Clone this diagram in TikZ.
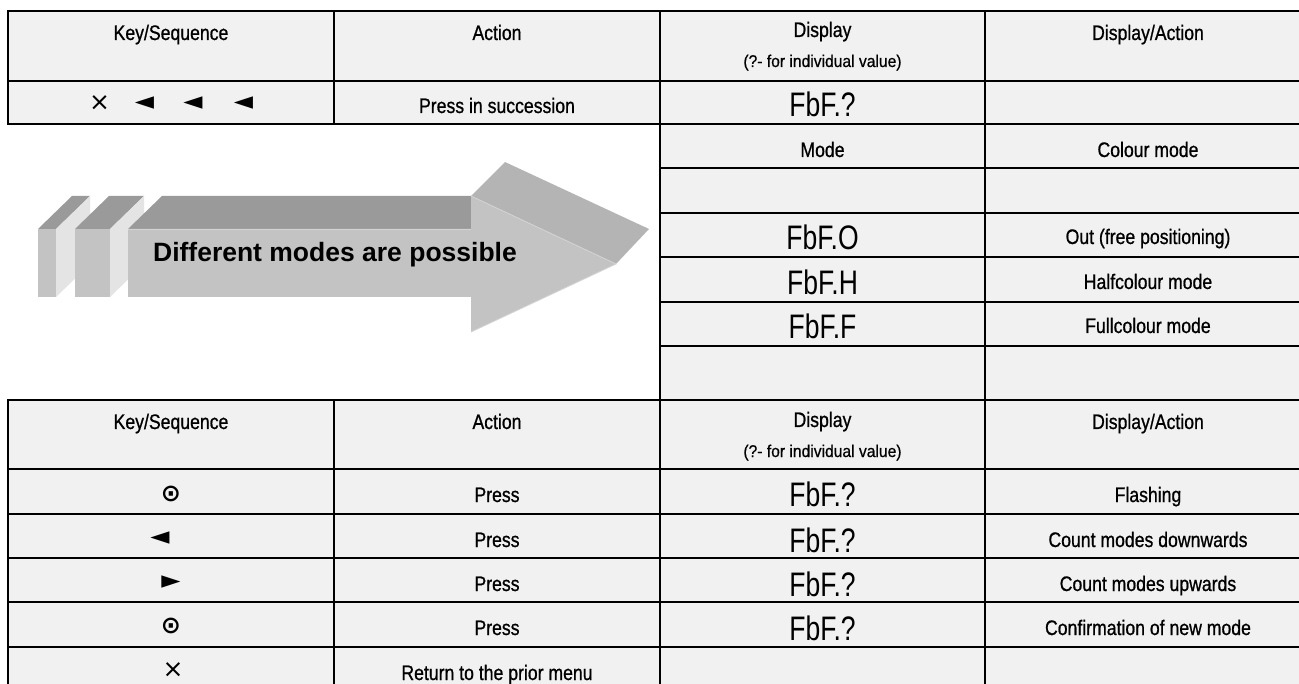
\documentclass[tikz,border=0pt]{standalone}
\usepackage{fontspec}
\setmainfont{Liberation Sans}
\newfontfamily\tabfont[FakeStretch=0.84,FakeBold=0.8]{Liberation Sans}
\newfontfamily\subfont[FakeStretch=0.92,FakeBold=0.6]{Liberation Sans}
\newfontfamily\segfont[FakeStretch=0.78]{Liberation Sans}
\newfontfamily\symfont{DejaVu Sans}
\definecolor{cellgray}{HTML}{F1F1F1}
\definecolor{topdark}{HTML}{9A9A9A}
\definecolor{frontgray}{HTML}{C3C3C3}
\definecolor{headtop}{HTML}{B4B4B4}
\definecolor{sidelight}{HTML}{E4E4E4}
\definecolor{edgelight}{HTML}{D4D4D4}
\tikzset{
  cell/.style={fill=cellgray, draw=black, line width=1.1pt},
  txt/.style={anchor=base, inner sep=0pt, font=\tabfont\fontsize{21}{24}\selectfont},
  subtxt/.style={anchor=base, inner sep=0pt, font=\subfont\fontsize{17}{19}\selectfont},
  seg/.style={anchor=base, inner sep=0pt, font=\segfont\fontsize{34}{40}\selectfont},
  sym/.style={anchor=center, inner sep=0pt, font=\symfont\fontsize{25}{28}\selectfont},
  symb/.style={anchor=center, inner sep=0pt, font=\symfont\bfseries\fontsize{24}{28}\selectfont},
  facetop/.style={fill=topdark, draw=none},
  faceside/.style={fill=sidelight, draw=none},
  facefront/.style={fill=frontgray, draw=none},
  arrowtxt/.style={anchor=base, inner sep=0pt, font=\bfseries\fontsize{26.5}{30}\selectfont}
}
\begin{document}
\begin{tikzpicture}[x=1pt,y=-1pt]
\useasboundingbox (0,0) rectangle (1299,684);
\clip (0,0) rectangle (1299,684);
\fill[white] (0,0) rectangle (1299,684);
% top table
\foreach \ya/\yb in {11/81,81/124}{
  \foreach \xa/\xb in {8/334,334/660,660/985,985/1311}{
    \draw[cell] (\xa,\ya) rectangle (\xb,\yb);}}
% middle table
\foreach \ya/\yb in {124/168,168/213,213/257,257/302,302/346,346/400}{
  \foreach \xa/\xb in {660/985,985/1311}{
    \draw[cell] (\xa,\ya) rectangle (\xb,\yb);}}
% bottom table
\foreach \ya/\yb in {400/469,469/514,514/558,558/602,602/647,647/692}{
  \foreach \xa/\xb in {8/334,334/660,660/985,985/1311}{
    \draw[cell] (\xa,\ya) rectangle (\xb,\yb);}}

% top table text
\node[txt] (tk) at (171,40) {Key/Sequence};
\node[txt] (ta) at (497,40) {Action};
\node[txt] (td) at (822.5,37) {Display};
\node[subtxt] (tds) at (822.5,67) {(?- for individual value)};
\node[txt] (tda) at (1148,40) {Display/Action};
\node[sym] (tx) at (99.5,103) {×};
\node[sym] (tl1) at (144.5,103) {◄};
\node[sym] (tl2) at (193,103) {◄};
\node[sym] (tl3) at (243.5,103) {◄};
\node[txt] (tp) at (497,113) {Press in succession};
\node[seg] (tf) at (822.5,117) {FbF.?};

% middle table text
\node[txt] (mm) at (822.5,157) {Mode};
\node[txt] (mc) at (1148,157) {Colour mode};
\node[seg] (mo) at (822.5,250) {FbF.O};
\node[txt] (mot) at (1148,244) {Out (free positioning)};
\node[seg] (mh) at (822.5,295) {FbF.H};
\node[txt] (mht) at (1148,289) {Halfcolour mode};
\node[seg] (mf) at (822.5,339) {FbF.F};
\node[txt] (mft) at (1148,333) {Fullcolour mode};

% bottom table text
\node[txt] (bk) at (171,429) {Key/Sequence};
\node[txt] (ba) at (497,429) {Action};
\node[txt] (bd) at (822.5,427) {Display};
\node[subtxt] (bds) at (822.5,457) {(?- for individual value)};
\node[txt] (bda) at (1148,429) {Display/Action};

\node[symb] (s1) at (171,494) {⊙};
\node[txt] (p1) at (497,502) {Press};
\node[seg] (f1) at (822.5,507) {FbF.?};
\node[txt] (a1) at (1148,502) {Flashing};

\node[sym] (s2) at (160,538) {◄};
\node[txt] (p2) at (497,547) {Press};
\node[seg] (f2) at (822.5,552) {FbF.?};
\node[txt] (a2) at (1148,547) {Count modes downwards};

\node[sym] (s3) at (171,582) {►};
\node[txt] (p3) at (497,591) {Press};
\node[seg] (f3) at (822.5,596) {FbF.?};
\node[txt] (a3) at (1148,591) {Count modes upwards};

\node[symb] (s4) at (171,626) {⊙};
\node[txt] (p4) at (497,635) {Press};
\node[seg] (f4) at (822.5,640) {FbF.?};
\node[txt] (a4) at (1148,635) {Confirmation of new mode};

\node[sym] (s5) at (173,670) {×};
\node[txt] (p5) at (497,680) {Return to the prior menu};

% 3D arrow
% slab 1
\fill[facetop] (38,229) -- (72,196) -- (90,196) -- (56,229) -- cycle;
\fill[faceside] (56,229) -- (90,196) -- (90,264) -- (56,297) -- cycle;
\fill[facefront] (38,229) rectangle (56,297);
% slab 2
\fill[facetop] (75,229) -- (109,196) -- (144,196) -- (110,229) -- cycle;
\fill[faceside] (110,229) -- (144,196) -- (144,264) -- (110,297) -- cycle;
\fill[facefront] (75,229) rectangle (110,297);
% main body
\fill[facetop] (128,229) -- (162,196) -- (505,196) -- (471,229) -- cycle;
\fill[fill=headtop] (471,196) -- (505,162) -- (649,229) -- (616,264) -- cycle;
\fill[facefront] (128,229) -- (471,229) -- (471,196) -- (616,264) -- (471,332) -- (471,297) -- (128,297) -- cycle;
\draw[edgelight, line width=0.8pt] (471,196) -- (616,264) -- (471,332);
\draw[edgelight, line width=0.8pt] (128,229) -- (471,229);
\node[arrowtxt] (arrtxt) at (335,262) {Different modes are possible};
\end{tikzpicture}
\end{document}
